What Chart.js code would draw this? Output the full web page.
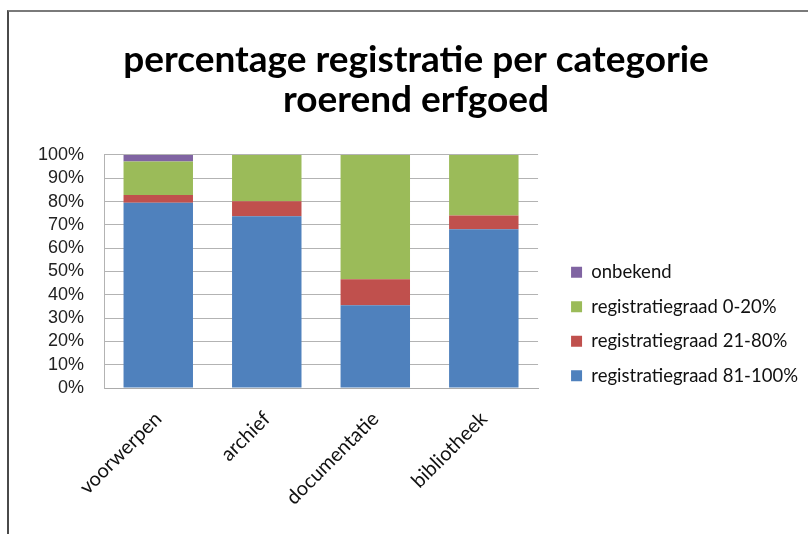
<!DOCTYPE html>
<html>
<head>
<meta charset="utf-8">
<script src="https://cdn.jsdelivr.net/npm/chart.js@4/dist/chart.umd.min.js"></script>
<style>
  html, body { margin: 0; padding: 0; background: #fff; }
  #wrap { position: relative; width: 808px; height: 534px; overflow: hidden; }
  #frame { position: absolute; left: 7px; top: 10px; width: 900px; height: 600px;
           border-left: 2px solid #4a4a4a; border-top: 2px solid #7a7a7a; pointer-events: none; }
  canvas { position: absolute; left: 0; top: 0; }
</style>
</head>
<body>
<div id="wrap">
  <canvas id="c" width="808" height="534"></canvas>
  <div id="frame"></div>
</div>
<script>
const titleLines = ['percentage registratie per categorie', 'roerend erfgoed'];
const categories = ['voorwerpen', 'archief', 'documentatie', 'bibliotheek'];
const seriesNames = ['registratiegraad 81-100%', 'registratiegraad 21-80%', 'registratiegraad 0-20%', 'onbekend'];
const high = [79.5, 73.7, 35.5, 68.1];     // registratiegraad 81-100%
const mid = [3.3, 6.4, 11.2, 5.9];         // registratiegraad 21-80%
const low = [14.4, 19.9, 53.3, 26.0];      // registratiegraad 0-20%
const unknown = [2.8, 0, 0, 0];            // onbekend
const yTicks = [0, 10, 20, 30, 40, 50, 60, 70, 80, 90, 100];

const colors = ['#4F81BD', '#C0504D', '#9BBB59', '#8064A2'];
const values = [high, mid, low, unknown];

const datasets = seriesNames.map((name, i) => ({
  label: name,
  data: values[i],
  backgroundColor: colors[i],
  borderWidth: 0,
  barPercentage: 0.64,
  categoryPercentage: 1.0,
  yAxisID: 'y'
}));

new Chart(document.getElementById('c'), {
  type: 'bar',
  data: { labels: categories, datasets: datasets },
  options: {
    responsive: false,
    animation: false,
    layout: { padding: { left: 24, right: 0, top: 30, bottom: 0 } },
    plugins: {
      title: {
        display: true,
        text: titleLines,
        color: '#000',
        font: { family: 'Lato', size: 37, weight: 'bold', lineHeight: 1.08 },
        padding: { top: 10, bottom: 35 }
      },
      legend: {
        position: 'right',
        align: 'start',
        fullSize: true,
        reverse: true,
        maxWidth: 253,
        title: {
          display: true,
          text: ' ',
          font: { size: 10 },
          padding: { top: 205, bottom: 0 }
        },
        labels: {
          boxWidth: 11,
          boxHeight: 11,
          padding: 16,
          color: '#111',
          font: { family: 'Lato', size: 18.5 }
        }
      },
      tooltip: { enabled: false }
    },
    scales: {
      x: {
        stacked: true,
        grid: { display: false },
        border: { display: true, color: '#ababab', width: 1 },
        ticks: {
          minRotation: 45,
          maxRotation: 45,
          padding: 11,
          color: '#111',
          font: { family: 'Lato', size: 20 }
        },
        afterFit: (s) => { s.height = 146; }
      },
      y: {
        stacked: true,
        min: 0,
        max: 100,
        afterBuildTicks: (s) => { s.ticks = yTicks.map(v => ({ value: v })); },
        grid: { color: '#b3b3b3', drawTicks: false },
        border: { display: true, color: '#b3b3b3', width: 1 },
        ticks: {
          autoSkip: false,
          padding: 20,
          color: '#222',
          font: { family: 'Liberation Sans', size: 18 },
          callback: (v) => v + '%'
        },
        afterFit: (s) => { s.width = 80; }
      },
      gap: {
        type: 'linear',
        position: 'right',
        display: true,
        grid: { display: false, drawTicks: false },
        border: { display: false },
        ticks: { display: false },
        afterFit: (s) => { s.width = 17; }
      }
    }
  }
});
</script>
</body>
</html>
